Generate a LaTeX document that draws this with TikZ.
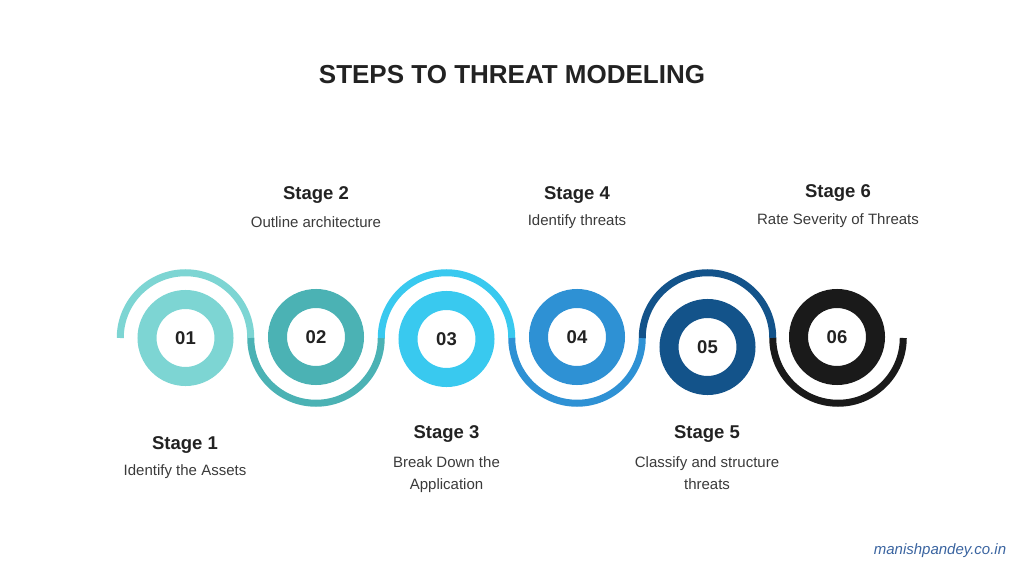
\documentclass[tikz,border=0pt]{standalone}
\usepackage{fontspec}
\setmainfont{Liberation Sans}
\usetikzlibrary{calc}

\definecolor{stepa}{HTML}{7DD5D3}
\definecolor{stepb}{HTML}{4BB2B4}
\definecolor{stepc}{HTML}{39C9EF}
\definecolor{stepd}{HTML}{2E91D4}
\definecolor{stepe}{HTML}{13538A}
\definecolor{stepf}{HTML}{1A1A1A}
\definecolor{darktext}{HTML}{222222}
\definecolor{greytext}{HTML}{3A3A3A}
\definecolor{siteblue}{HTML}{3A64A0}

\begin{document}
\begin{tikzpicture}[x=1pt,y=1pt,
    ring/.style={circle,line width=19pt,minimum size=77pt,inner sep=0pt,
        font=\fontsize{18.5}{20}\selectfont\bfseries,text=darktext},
    wave/.style={line width=7pt},
    stagehead/.style={font=\fontsize{18.5}{22}\selectfont\bfseries,text=darktext},
    stagetext/.style={font=\fontsize{15}{22}\selectfont,text=greytext,align=center}]
    \useasboundingbox (0,0) rectangle (1024,576);
    \node[font=\fontsize{26}{30}\selectfont\bfseries,text=darktext] (title) at (512,501) {STEPS TO THREAT MODELING};
    % wave centres
    \coordinate (w1) at (185.5,238);
    \coordinate (w2) at (316,238);
    \coordinate (w3) at (446.5,238);
    \coordinate (w4) at (577,238);
    \coordinate (w5) at (707.5,238);
    \coordinate (w6) at (838,238);
    % waves
    \draw[wave,stepa]([xshift=-65.25pt]w1) arc (180:0:65.25);
    \draw[wave,stepb]([xshift=-65.25pt]w2) arc (180:360:65.25);
    \draw[wave,stepc]([xshift=-65.25pt]w3) arc (180:0:65.25);
    \draw[wave,stepd]([xshift=-65.25pt]w4) arc (180:360:65.25);
    \draw[wave,stepe]([xshift=-65.25pt]w5) arc (180:0:65.25);
    \draw[wave,stepf]([xshift=-65.25pt]w6) arc (180:360:65.25);
    % rings
    \node[ring,draw=stepa] (r1) at (185.5,238) {01};
    \node[ring,draw=stepb] (r2) at (316,239) {02};
    \node[ring,draw=stepc] (r3) at (446.5,237) {03};
    \node[ring,draw=stepd] (r4) at (577,239) {04};
    \node[ring,draw=stepe] (r5) at (707.5,229) {05};
    \node[ring,draw=stepf] (r6) at (837,239) {06};
    % labels above
    \node[stagehead] (s2) at (316,381) {Stage 2};
    \node[stagetext] (t2) at (316,354) {Outline architecture};
    \node[stagehead] (s4) at (577,381) {Stage 4};
    \node[stagetext] (t4) at (577,354) {Identify threats};
    \node[stagehead] (s6) at (838,383) {Stage 6};
    \node[stagetext] (t6) at (838,355) {Rate Severity of Threats};
    % labels below
    \node[stagehead] (s1) at (185,131) {Stage 1};
    \node[stagetext] (t1) at (185,104) {Identify the Assets};
    \node[stagehead] (s3) at (446.5,142) {Stage 3};
    \node[stagetext,anchor=north] (t3) at (446.5,123) {Break Down the\\Application};
    \node[stagehead] (s5) at (707,142) {Stage 5};
    \node[stagetext,anchor=north] (t5) at (707,123) {Classify and structure\\threats};
    \node[font=\fontsize{15}{18}\selectfont\itshape,text=siteblue] (site) at (940,25) {manishpandey.co.in};
\end{tikzpicture}
\end{document}
